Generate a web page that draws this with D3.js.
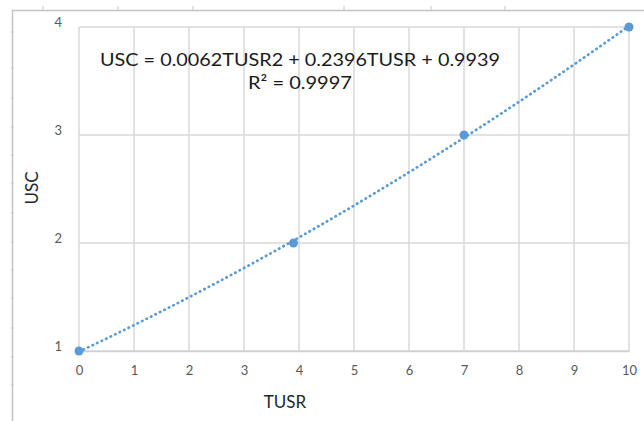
<!DOCTYPE html>
<html>
<head>
<meta charset="utf-8">
<script src="https://cdn.jsdelivr.net/npm/d3@7"></script>
<style>
    body { margin: 0; background: #fff; }
    #c { width: 644px; height: 421px; }
    text { font-family: Lato, "Open Sans", sans-serif; }
</style>
</head>
<body>
<div id="c"></div>
<script>
"use strict";

// data points
const tusr = [0, 3.9, 7, 10]
const usc = [1, 2, 3, 4]
const xTicks = [0, 1, 2, 3, 4, 5, 6, 7, 8, 9, 10]
const yTicks = [1, 2, 3, 4]
// trendline coefficients as printed on the chart (a*x^2 + b*x + c)
const trendCoef = [0.0062, 0.2396, 0.9939]
const trendXs = d3.range(0, 10.01, 0.25)
const equationLines = ["USC = 0.0062TUSR2 + 0.2396TUSR + 0.9939", "R² = 0.9997"]

const rulerTop = [43, 118, 193, 344, 431, 505]
const rulerLeft = [32, 68, 98, 127, 155, 183, 213, 242, 270, 298, 328, 357, 385]

window.onload = function() {
    drawChart()
}

function drawChart() {
    const svg = d3.select('#c').append('svg')
        .attr('width', 644).attr('height', 421)

    // outer frame (only top and left visible)
    svg.append('path')
        .attr('d', 'M12.5,421 V10.5 H644')
        .attr('fill', 'none')
        .attr('stroke', '#c4c4c4')
        .attr('stroke-width', 1.5)
    rulerTop.forEach(x => {
        svg.append('line').attr('x1', x).attr('x2', x).attr('y1', 6).attr('y2', 10)
            .attr('stroke', '#c8c8c8')
    })
    rulerLeft.forEach(y => {
        svg.append('line').attr('x1', 11).attr('x2', 14).attr('y1', y).attr('y2', y)
            .attr('stroke', '#c8c8c8')
    })

    const xScale = d3.scaleLinear().domain([0, 10]).range([79, 629])
    const yScale = d3.scaleLinear().domain([1, 4]).range([351, 27])

    // gridlines
    const grid = svg.append('g')
    grid.selectAll('.vg').data(xTicks).enter().append('line')
        .attr('x1', d => xScale(d)).attr('x2', d => xScale(d))
        .attr('y1', yScale(4)).attr('y2', yScale(1))
        .attr('stroke', '#d9d9d9').attr('stroke-width', 1.5)
    grid.selectAll('.hg').data(yTicks).enter().append('line')
        .attr('x1', xScale(0)).attr('x2', xScale(10))
        .attr('y1', d => yScale(d)).attr('y2', d => yScale(d))
        .attr('stroke', '#d9d9d9').attr('stroke-width', 1.5)

    // x axis
    const xAxis = svg.append('g')
        .attr('transform', 'translate(0,' + yScale(1) + ')')
        .call(d3.axisBottom(xScale).tickValues(xTicks).tickSize(0).tickPadding(15))
    xAxis.select('.domain').attr('stroke', '#d0d0d0').attr('stroke-width', 1.5)
    xAxis.selectAll('text').style('font-size', '13px').attr('fill', '#595959')
        .style('font-family', 'Lato, sans-serif')

    // y axis
    const yAxis = svg.append('g')
        .attr('transform', 'translate(' + xScale(0) + ',0)')
        .call(d3.axisLeft(yScale).tickValues(yTicks).tickSize(0).tickPadding(17)
            .tickFormat(d3.format('d')))
    yAxis.select('.domain').remove()
    yAxis.selectAll('text').style('font-size', '13px').attr('fill', '#595959')
        .style('font-family', 'Lato, sans-serif')
    yAxis.selectAll('.tick text').attr('dy', '-0.05em')

    // axis titles
    svg.append('text')
        .attr('x', 285).attr('y', 408)
        .attr('text-anchor', 'middle')
        .style('font-size', '17px').attr('fill', '#262626')
        .text('TUSR')
    svg.append('text')
        .attr('transform', 'translate(38,188) rotate(-90)')
        .attr('text-anchor', 'middle')
        .style('font-size', '17px').attr('fill', '#262626')
        .text('USC')

    // trendline
    const poly = x => trendCoef[0] * x * x + trendCoef[1] * x + trendCoef[2]
    svg.append('path')
        .datum(trendXs)
        .attr('fill', 'none')
        .attr('stroke', '#5b9bd5')
        .attr('stroke-width', 2.7)
        .attr('stroke-dasharray', '0.5,4.5')
        .attr('stroke-linecap', 'round')
        .attr('d', d3.line()
            .x(d => xScale(d))
            .y(d => yScale(poly(d)))
            .curve(d3.curveMonotoneX))

    // points
    svg.append('g').selectAll('circle')
        .data(tusr.map((t, i) => ({ x: t, y: usc[i] })))
        .enter().append('circle')
        .attr('cx', d => xScale(d.x))
        .attr('cy', d => yScale(d.y))
        .attr('r', 4.5)
        .attr('fill', '#5b9bd5')

    // equation label
    const eqWidths = [400, 104]
    equationLines.forEach((line, i) => {
        svg.append('text')
            .attr('x', 300).attr('y', 66 + i * 23)
            .attr('text-anchor', 'middle')
            .attr('textLength', eqWidths[i])
            .attr('lengthAdjust', 'spacingAndGlyphs')
            .style('font-size', '18px').attr('fill', '#1a1a1a')
            .text(line)
    })
}
</script>
</body>
</html>
